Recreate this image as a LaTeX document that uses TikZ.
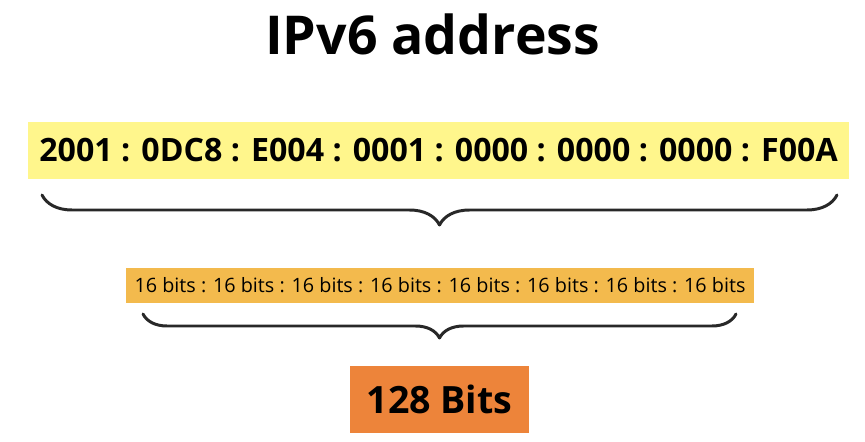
\documentclass[tikz,border=0pt]{standalone}
\usepackage{fontspec}
\setmainfont{Open Sans}
\usetikzlibrary{decorations.pathreplacing}
\usetikzlibrary{calc}
\definecolor{yellow1}{RGB}{255, 246, 140}
\definecolor{orange1}{RGB}{243, 186, 77}
\definecolor{orange2}{RGB}{237, 132, 58}
\definecolor{brace1}{RGB}{40, 40, 40}

\begin{document}
\begin{tikzpicture}[x=0.02cm, y=-0.02cm, line width=1.7pt,
  bracedown/.style={decorate, draw=brace1, line cap=round, line join=round,
    decoration={brace, amplitude=#1}}]
  \useasboundingbox (0,0) rectangle (865,442);
  \node[anchor=base, font=\bfseries\fontsize{30.5}{32}\selectfont] (title) at (432.5,55) {IPv6 address};
  \node[fill=yellow1, minimum width=16.42cm, minimum height=1.14cm, inner sep=0pt,
    font=\bfseries\fontsize{18.3}{20}\selectfont] (addr) at (438.5,150.5)
    {2001 : 0DC8 : E004 : 0001 : 0000 : 0000 : 0000 : F00A};
  \node[fill=orange1, minimum width=12.58cm, minimum height=0.70cm, inner sep=0pt,
    font=\fontsize{11.25}{13}\selectfont] (bits) at (440,285.5)
    {16 bits : 16 bits : 16 bits : 16 bits : 16 bits : 16 bits : 16 bits : 16 bits};
  \node[fill=orange2, minimum width=3.58cm, minimum height=1.34cm, inner sep=0pt,
    font=\bfseries\fontsize{21.4}{23}\selectfont] (total) at (439.5,399.5) {128 Bits};
  \coordinate (b1r) at (837,195);
  \coordinate (b1l) at (42,195);
  \coordinate (b2r) at (736,314);
  \coordinate (b2l) at (143,314);
  \draw[bracedown=0.6cm] (b1r) -- (b1l);
  \draw[bracedown=0.48cm] (b2r) -- (b2l);
\end{tikzpicture}
\end{document}
